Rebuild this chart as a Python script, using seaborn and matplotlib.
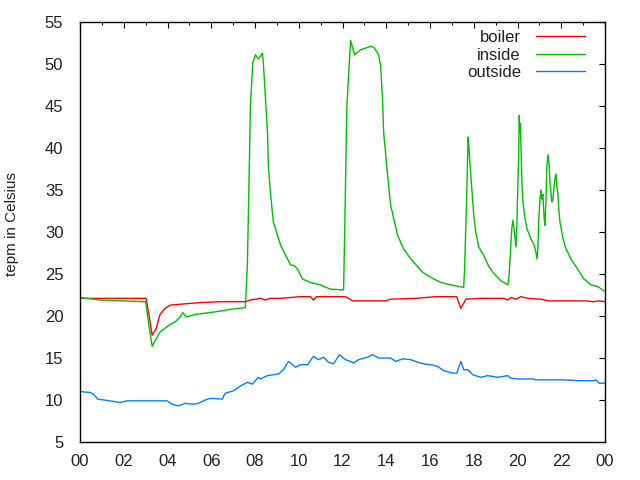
import numpy as np
import pandas as pd
import matplotlib
matplotlib.use("Agg")
import matplotlib.pyplot as plt
import seaborn as sns
from matplotlib.ticker import MultipleLocator, FixedLocator, FixedFormatter

# ---- data (hours of day, temperature in Celsius) ----
boiler_hours = [0.0, 3.02, 3.16, 3.30, 3.48, 3.66, 3.89, 4.12, 4.58, 5.50, 6.41, 7.56, 7.79, 8.02,
                8.25, 8.47, 8.70, 9.16, 10.08, 10.54, 10.67, 10.81, 12.14, 12.46, 13.97, 14.20,
                15.35, 16.26, 17.22, 17.41, 17.64, 18.32, 19.38, 19.56, 19.70, 19.93, 20.15,
                20.48, 21.07, 21.44, 21.99, 23.13, 23.45, 23.73, 24.0]
boiler_temp = [22.1, 22.1, 20.0, 17.7, 18.5, 20.2, 20.9, 21.3, 21.4, 21.6, 21.7, 21.7, 21.9, 22.0,
               22.1, 21.9, 22.1, 22.1, 22.3, 22.3, 21.9, 22.3, 22.3, 21.8, 21.8, 22.0,
               22.1, 22.3, 22.3, 20.9, 22.0, 22.1, 22.1, 21.9, 22.2, 22.0, 22.3,
               22.1, 22.0, 21.8, 21.8, 21.8, 21.7, 21.8, 21.7]

inside_hours = [0.0, 0.9, 2.0, 3.0, 3.16, 3.30, 3.66, 4.12, 4.35, 4.58, 4.70, 4.85, 5.30, 6.20, 6.90,
                7.56, 7.65, 7.72, 7.79, 7.90, 8.02, 8.15, 8.34, 8.38, 8.47, 8.57, 8.61, 8.70, 8.84,
                9.16, 9.62, 9.80, 9.94, 10.17, 10.54, 10.99, 11.45, 12.05, 12.10, 12.20, 12.37,
                12.55, 12.83, 13.29, 13.43, 13.65, 13.74, 13.83, 13.88, 14.06, 14.20, 14.52, 14.79,
                15.12, 15.67, 16.03, 16.49, 16.95, 17.54, 17.58, 17.63, 17.68, 17.72, 17.74, 17.77,
                17.80, 17.86, 17.91, 17.95, 18.00, 18.09, 18.23, 18.42, 18.65, 18.87, 19.24, 19.56,
                19.61, 19.70, 19.74, 19.79, 19.84, 19.93, 19.97, 20.02, 20.06, 20.08, 20.11, 20.13,
                20.15, 20.20, 20.24, 20.33, 20.43, 20.61, 20.75, 20.84, 20.89, 20.93, 20.98, 21.03,
                21.07, 21.11, 21.16, 21.21, 21.25, 21.30, 21.34, 21.39, 21.44, 21.48, 21.57, 21.62,
                21.66, 21.71, 21.76, 21.80, 21.85, 21.89, 21.94, 22.08, 22.22, 22.44, 22.77, 23.04,
                23.36, 23.68, 23.95]
inside_temp = [22.2, 21.9, 21.8, 21.7, 18.7, 16.4, 18.1, 19.0, 19.3, 19.9, 20.4, 19.9, 20.2, 20.5, 20.8,
               21.0, 26.0, 35.0, 45.0, 50.2, 51.1, 50.6, 51.3, 50.2, 46.3, 41.9, 38.0, 34.8, 31.2,
               28.5, 26.1, 26.0, 25.6, 24.4, 24.0, 23.7, 23.2, 23.1, 30.0, 45.0, 52.8,
               51.1, 51.7, 52.1, 52.0, 51.1, 49.9, 45.8, 41.9, 36.8, 33.2, 29.6, 28.0,
               26.8, 25.2, 24.6, 24.0, 23.7, 23.4, 25.6, 30.0, 34.4, 39.2, 41.3, 40.4,
               39.2, 36.9, 35.1, 33.6, 32.0, 30.0, 28.2, 27.4, 26.1, 25.2, 24.2, 23.7,
               24.6, 28.5, 30.4, 31.4, 30.4, 28.2, 30.8, 35.6, 39.9, 43.9, 41.9, 42.9,
               41.1, 36.0, 33.9, 31.8, 30.4, 29.2, 28.5, 27.6, 26.8, 28.0, 32.0, 33.9,
               35.0, 33.9, 34.5, 32.0, 30.8, 33.6, 37.7, 39.2, 38.3, 36.0, 33.6, 33.9,
               35.1, 36.3, 36.9, 35.6, 34.4, 32.6, 31.2, 29.2, 28.0, 26.8, 25.5, 24.4,
               23.7, 23.5, 23.0]

outside_hours = [0.0, 0.46, 0.60, 0.82, 1.37, 1.83, 2.15, 3.07, 3.98, 4.21, 4.49, 4.81, 5.18, 5.40,
                 5.82, 6.05, 6.50, 6.64, 7.01, 7.42, 7.65, 7.88, 8.15, 8.24, 8.57, 9.07, 9.30, 9.53,
                 9.85, 10.08, 10.40, 10.67, 10.90, 11.13, 11.36, 11.59, 11.86, 12.14, 12.37, 12.50,
                 12.73, 13.15, 13.37, 13.65, 14.20, 14.43, 14.75, 15.12, 15.44, 15.71, 16.03, 16.35,
                 16.63, 17.04, 17.22, 17.41, 17.54, 17.73, 17.96, 18.32, 18.64, 19.10, 19.56, 19.70,
                 20.02, 20.75, 20.84, 22.12, 22.81, 23.50, 23.59, 23.73, 24.0]
outside_temp = [11.0, 10.9, 10.7, 10.1, 9.9, 9.7, 9.9, 9.9, 9.9, 9.5, 9.3, 9.6, 9.5, 9.6,
                10.1, 10.2, 10.1, 10.8, 11.1, 11.8, 12.1, 11.9, 12.7, 12.5, 12.9, 13.1, 13.6, 14.6,
                13.9, 14.2, 14.2, 15.2, 14.8, 15.1, 14.5, 14.3, 15.4, 14.8, 14.6, 14.4,
                14.8, 15.1, 15.4, 15.0, 15.0, 14.6, 14.9, 14.8, 14.5, 14.3, 14.2, 14.0,
                13.5, 13.2, 13.2, 14.6, 13.6, 13.6, 13.0, 12.7, 12.9, 12.7, 12.9, 12.6,
                12.5, 12.5, 12.4, 12.4, 12.3, 12.3, 12.4, 12.0, 12.0]

series_names = ["boiler", "inside", "outside"]
series_colors = ["#ff0000", "#00c000", "#0080ff"]
xtick_positions = list(range(0, 25, 2))
xtick_labels = ["00", "02", "04", "06", "08", "10", "12", "14", "16", "18", "20", "22", "00"]
ylabel = "tepm in Celsius"

df = pd.concat([
    pd.DataFrame({"hour": boiler_hours, "temp": boiler_temp, "series": "boiler"}),
    pd.DataFrame({"hour": inside_hours, "temp": inside_temp, "series": "inside"}),
    pd.DataFrame({"hour": outside_hours, "temp": outside_temp, "series": "outside"}),
], ignore_index=True)

sns.set_theme(style="white")
plt.rcParams['font.family'] = ['Liberation Sans', 'DejaVu Sans']

FS = 12
fig = plt.figure(figsize=(6.4, 4.8), dpi=100)
ax = fig.add_axes([80 / 640, 38 / 480, 525 / 640, 420 / 480])

sns.lineplot(data=df, x="hour", y="temp", hue="series", hue_order=series_names,
             palette=dict(zip(series_names, series_colors)), estimator=None, sort=False,
             linewidth=1.0, ax=ax, legend=False)

ax.set_xlim(0, 24)
ax.set_ylim(5, 55)
ax.xaxis.set_major_locator(FixedLocator(xtick_positions))
ax.xaxis.set_major_formatter(FixedFormatter(xtick_labels))
ax.xaxis.set_minor_locator(MultipleLocator(1))
ax.yaxis.set_major_locator(MultipleLocator(5))
ax.set_xlabel("")
ax.set_ylabel(ylabel, fontsize=11, color="#222222")
ax.yaxis.set_label_coords(-(80 - 19) / 525, (442 - 223.5) / 420)

for s in ax.spines.values():
    s.set_color("black")
    s.set_linewidth(1.0)

ax.tick_params(axis="both", which="both", direction="in", top=True, right=True,
               colors="black", labelcolor="#222222", labelsize=FS, width=0.8)
ax.tick_params(axis="both", which="major", length=4.5)
ax.tick_params(axis="both", which="minor", length=2.5)
ax.tick_params(axis="x", which="major", pad=9)
ax.tick_params(axis="y", which="major", pad=12)

handles = ax.get_lines()[:3]
leg = ax.legend(handles, series_names, loc="upper right",
                bbox_to_anchor=((585 - 80) / 525, (442 - 30) / 420),
                frameon=False, markerfirst=False, handlelength=2.95, handletextpad=0.9,
                labelspacing=0.15, fontsize=FS, borderaxespad=0, borderpad=0)
for t in leg.get_texts():
    t.set_color("#222222")

fig.savefig("out.png", dpi=100, facecolor="white")
